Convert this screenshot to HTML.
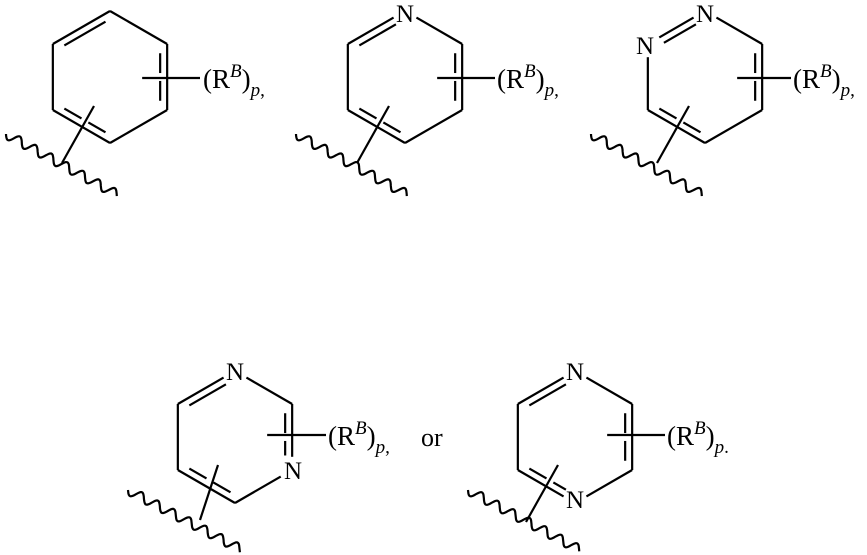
<!DOCTYPE html>
<html><head><meta charset="utf-8"><style>
body{margin:0;background:#fff}
svg{display:block}
text{font-family:"Liberation Serif",serif;fill:#000}
</style></head><body>
<svg id="s" width="867" height="555" viewBox="0 0 867 555" stroke="#000" stroke-width="2.2" fill="none">
<g stroke="none">
<text x="203" y="88" font-size="27">(R<tspan font-size="19" dy="-11" font-style="italic">B</tspan><tspan dy="11">)</tspan><tspan font-size="19" dy="8" font-style="italic">p</tspan><tspan font-size="19">,</tspan></text>
<text x="497" y="88" font-size="27">(R<tspan font-size="19" dy="-11" font-style="italic">B</tspan><tspan dy="11">)</tspan><tspan font-size="19" dy="8" font-style="italic">p</tspan><tspan font-size="19">,</tspan></text>
<text x="793" y="88" font-size="27">(R<tspan font-size="19" dy="-11" font-style="italic">B</tspan><tspan dy="11">)</tspan><tspan font-size="19" dy="8" font-style="italic">p</tspan><tspan font-size="19">,</tspan></text>
<text x="328" y="445" font-size="27">(R<tspan font-size="19" dy="-11" font-style="italic">B</tspan><tspan dy="11">)</tspan><tspan font-size="19" dy="8" font-style="italic">p</tspan><tspan font-size="19">,</tspan></text>
<text x="421" y="446" font-size="26">or</text>
<text x="667" y="445" font-size="27">(R<tspan font-size="19" dy="-11" font-style="italic">B</tspan><tspan dy="11">)</tspan><tspan font-size="19" dy="8" font-style="italic">p</tspan><tspan font-size="19">.</tspan></text>
<text x="405" y="22" font-size="25" text-anchor="middle">N</text>
<text x="705" y="22" font-size="25" text-anchor="middle">N</text>
<text x="645" y="54" font-size="25" text-anchor="middle">N</text>
<text x="235" y="380" font-size="25" text-anchor="middle">N</text>
<text x="293" y="479" font-size="25" text-anchor="middle">N</text>
<text x="575" y="380" font-size="25" text-anchor="middle">N</text>
<text x="575" y="508" font-size="25" text-anchor="middle">N</text>
</g>
</svg>
<script>
var s=document.getElementById('s'),NS='http://www.w3.org/2000/svg';
function L(a,b,c,d){var e=document.createElementNS(NS,'line');e.setAttribute('x1',a);e.setAttribute('y1',b);e.setAttribute('x2',c);e.setAttribute('y2',d);s.appendChild(e);}
function P(d){var e=document.createElementNS(NS,'path');e.setAttribute('d',d);s.appendChild(e);}
function wave(x1,y1,x2,y2){var dx=x2-x1,dy=y2-y1,len=Math.hypot(dx,dy),ux=dx/len,uy=dy/len,nx=-uy,ny=ux,d='';
for(var t=0;t<=len;t+=1){var a=4.5*Math.sin(t/18*2*Math.PI);var x=x1+ux*t+nx*a,y=y1+uy*t+ny*a;d+=(t?'L':'M')+x.toFixed(1)+' '+y.toFixed(1);}P(d);}
function ring(cx,cy,r,nl,dbl,subY,subX2,cross,wv){
 var v=[];for(var i=0;i<6;i++){var a=(-90+60*i)*Math.PI/180;v.push([cx+r*Math.cos(a),cy+r*Math.sin(a)]);}
 function sh(p,q,k){return [p[0]+(q[0]-p[0])*k,p[1]+(q[1]-p[1])*k];}
 for(var i=0;i<6;i++){var j=(i+1)%6,p=v[i],q=v[j];var a=nl.indexOf(i)>=0?sh(p,q,0.2):p,b=nl.indexOf(j)>=0?sh(q,p,0.2):q;L(a[0],a[1],b[0],b[1]);}
 dbl.forEach(function(e){var p=v[e[0]],q=v[e[1]];var m=[(p[0]+q[0])/2,(p[1]+q[1])/2];var ix=cx-m[0],iy=cy-m[1],il=Math.hypot(ix,iy);var o=[ix/il*7,iy/il*7];
  var k1=nl.indexOf(e[0])>=0?0.22:0.14,k2=nl.indexOf(e[1])>=0?0.78:0.86;var a=sh(p,q,k1),b=sh(p,q,k2);
  if(e[2]){var c1=sh(p,q,0.44),c2=sh(p,q,0.56);L(a[0]+o[0],a[1]+o[1],c1[0]+o[0],c1[1]+o[1]);L(c2[0]+o[0],c2[1]+o[1],b[0]+o[0],b[1]+o[1]);}
  else L(a[0]+o[0],a[1]+o[1],b[0]+o[0],b[1]+o[1]);});
 L(v[1][0]-25,subY,subX2,subY);
 L(cross[0],cross[1],cross[2],cross[3]);
 wave(wv[0],wv[1],wv[2],wv[3]);
}
ring(110,77,66,[],[[5,0],[1,2,1],[3,4,1]],78,200,[94,106,62,163],[6,134,118,195]);
ring(405,77,66,[0],[[5,0],[1,2,1],[3,4,1]],78,495,[389,106,357,163],[296,134,408,195]);
ring(705,77,66,[0,5],[[5,0],[1,2,1],[3,4,1]],78,791,[689,106,657,163],[591,134,703,195]);
ring(235,437,66,[0,2],[[5,0],[1,2,1],[3,4,1]],435,326,[218,465,200,520],[128,490,242,550]);
ring(575,437,66,[0,3],[[5,0],[1,2,1],[3,4,1]],435,665,[558,465,526,522],[468,490,580,550]);
</script>
</body></html>
